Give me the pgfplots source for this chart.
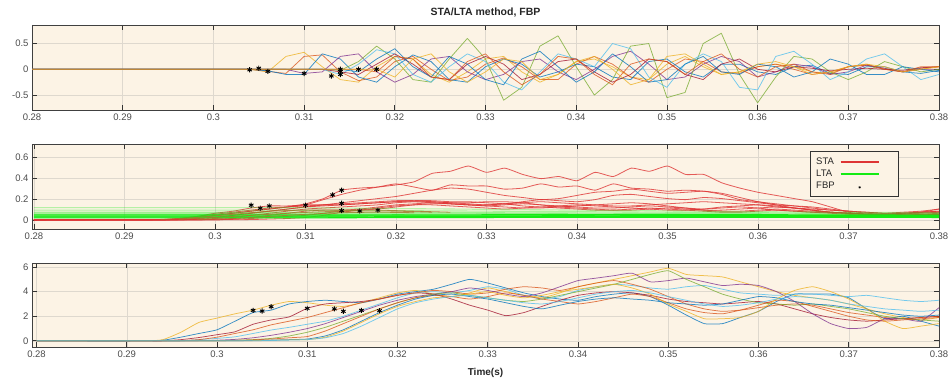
\documentclass[border=0pt]{standalone}
\usepackage{fontspec}
\setmainfont{Liberation Sans}
\usepackage{pgfplots}
\pgfplotsset{compat=1.18}
\definecolor{bgc}{RGB}{252,243,229}
\definecolor{gridc}{RGB}{222,216,206}
\definecolor{mblue}{RGB}{0,114,189}
\definecolor{morange}{RGB}{217,83,25}
\definecolor{myellow}{RGB}{237,177,32}
\definecolor{mpurple}{RGB}{126,47,142}
\definecolor{mgreen}{RGB}{119,172,48}
\definecolor{mlblue}{RGB}{77,190,238}
\definecolor{mdred}{RGB}{162,20,47}
\definecolor{stared}{RGB}{222,52,52}
\definecolor{ltagreen}{RGB}{20,235,20}
\definecolor{olive2}{RGB}{165,120,45}
\pgfplotsset{
  mat/.style={
    scale only axis, width=907pt, xmax=0.38,
    axis background/.style={fill=bgc},
    grid=major, major grid style={gridc, line width=0.5pt},
    axis line style={black!75, line width=0.7pt},
    tick style={black!80, line width=0.8pt},
    major tick length=5pt, tick align=inside,
    xtick pos=both, ytick pos=both,
    xtick={0.28,0.29,0.30,0.31,0.32,0.33,0.34,0.35,0.36,0.37,0.38},
    xticklabels={0.28,0.29,0.3,0.31,0.32,0.33,0.34,0.35,0.36,0.37,0.38},
    scaled ticks=false,
    ticklabel style={font=\fontsize{9.5}{11}\selectfont, text=black!70},
    /pgf/number format/assume math mode=true,
    every axis plot/.append style={line join=round},
  },
  w1/.style={line width=0.75pt, opacity=0.78},
  sta/.style={stared, line width=0.8pt, opacity=0.8, smooth, tension=0.3},
  lta/.style={ltagreen, line width=1.1pt},
  olv/.style={olive2, line width=0.8pt, opacity=0.8, smooth, tension=0.3, forget plot},
  fbp/.style={only marks, mark=asterisk, mark size=2.6pt, black, mark options={line width=0.9pt}},
  legsta/.style={legend image code/.code={\draw[draw=stared, line width=1.8pt] (4pt,0pt) -- (42pt,0pt); \path[draw=none, fill=none] (0pt,0pt) -- (57pt,0pt);}},
  leglta/.style={legend image code/.code={\draw[draw=ltagreen, line width=1.5pt] (4pt,0pt) -- (42pt,0pt); \path[draw=none, fill=none] (0pt,0pt) -- (57pt,0pt);}},
  legmark/.style={legend image code/.code={\draw[##1] plot coordinates {(23pt,-1.5pt)}; \path[draw=none, fill=none] (0pt,0pt) -- (57pt,0pt);}},
}
\begin{document}
\begin{tikzpicture}[x=1pt,y=1pt]
\useasboundingbox (0,0) rectangle (949,381);
% ---------------- panel 1 ----------------
\begin{axis}[mat, at={(32pt,271pt)}, anchor=south west, height=85pt,
  xmin=0.28, ymin=-0.79, ymax=0.86,
  ytick={-0.5,0,0.5}, yticklabels={-0.5,0,0.5},
  title={STA/LTA method, FBP},
  title style={font=\fontsize{10.5}{12}\selectfont\bfseries, text=black!85, yshift=-2pt}]
\addplot[w1, myellow] coordinates {(0.28,0)(0.304,0)(0.306,-0.05)(0.308,0.25)(0.310,0.33)(0.312,0.05)(0.314,-0.20)(0.316,-0.25)(0.318,0.05)(0.320,0.25)(0.322,0.20)(0.324,-0.10)(0.326,-0.25)(0.328,-0.05)(0.330,0.20)(0.332,0.25)(0.334,-0.05)(0.336,-0.25)(0.338,-0.10)(0.340,0.15)(0.342,0.20)(0.344,0.05)(0.346,-0.15)(0.348,-0.20)(0.350,0.10)(0.352,0.25)(0.354,0.05)(0.356,-0.10)(0.358,-0.05)(0.360,0.05)(0.362,0.10)(0.364,0.05)(0.366,-0.05)(0.368,-0.08)(0.370,0.05)(0.372,0.08)(0.374,0.02)(0.376,-0.05)(0.378,0)(0.380,0.05)};
\addplot[w1, morange] coordinates {(0.28,0)(0.304,0)(0.306,-0.04)(0.308,-0.08)(0.310,0.25)(0.312,0.28)(0.314,-0.05)(0.316,-0.22)(0.318,-0.15)(0.320,0.15)(0.322,0.25)(0.324,0)(0.326,-0.22)(0.328,-0.15)(0.330,0.10)(0.332,0.22)(0.334,0.05)(0.336,-0.20)(0.338,-0.20)(0.340,0.10)(0.342,0.25)(0.344,0.10)(0.346,-0.15)(0.348,-0.25)(0.350,0)(0.352,0.20)(0.354,0.15)(0.356,-0.05)(0.358,-0.08)(0.360,0.05)(0.362,0.10)(0.364,0)(0.366,-0.10)(0.368,-0.05)(0.370,0.05)(0.372,0.08)(0.374,0)(0.376,-0.05)(0.378,0.02)(0.380,0.05)};
\addplot[w1, mblue] coordinates {(0.28,0)(0.304,0)(0.306,-0.03)(0.308,-0.10)(0.310,-0.10)(0.312,0.30)(0.314,0.20)(0.316,-0.15)(0.318,-0.25)(0.320,0.05)(0.322,0.28)(0.324,0.15)(0.326,-0.20)(0.328,-0.25)(0.330,0.05)(0.332,0.20)(0.334,0.10)(0.336,-0.15)(0.338,-0.05)(0.340,0.10)(0.342,0.05)(0.344,-0.15)(0.346,-0.20)(0.348,0.15)(0.350,0.20)(0.352,-0.05)(0.354,-0.15)(0.356,0.10)(0.358,0.10)(0.360,-0.05)(0.362,-0.10)(0.364,0.05)(0.366,0.08)(0.368,-0.08)(0.370,-0.10)(0.372,0.05)(0.374,0.05)(0.376,-0.05)(0.378,-0.08)(0.380,-0.02)};
\addplot[w1, mpurple] coordinates {(0.28,0)(0.308,0)(0.310,-0.08)(0.312,-0.05)(0.314,0.25)(0.316,0.30)(0.318,-0.05)(0.320,-0.25)(0.322,-0.10)(0.324,0.20)(0.326,0.25)(0.328,-0.05)(0.330,-0.20)(0.332,-0.10)(0.334,0.15)(0.336,0.20)(0.338,-0.05)(0.340,-0.20)(0.342,0)(0.344,0.25)(0.346,0.35)(0.348,0.10)(0.350,-0.20)(0.352,-0.15)(0.354,0.10)(0.356,0.25)(0.358,0.15)(0.360,-0.15)(0.362,-0.05)(0.364,0.10)(0.366,0.05)(0.368,-0.10)(0.370,-0.05)(0.372,0.08)(0.374,0.02)(0.376,-0.05)(0.378,0)(0.380,0)};
\addplot[w1, mgreen] coordinates {(0.28,0)(0.312,0)(0.314,-0.02)(0.316,0.15)(0.318,0.45)(0.320,0.20)(0.322,-0.20)(0.324,-0.25)(0.326,0.20)(0.328,0.60)(0.330,0.20)(0.332,-0.60)(0.334,-0.35)(0.336,0.45)(0.338,0.65)(0.340,0.05)(0.342,-0.50)(0.344,-0.20)(0.346,0.45)(0.348,0.50)(0.350,-0.55)(0.352,-0.45)(0.354,0.50)(0.356,0.70)(0.358,-0.10)(0.360,-0.65)(0.362,-0.15)(0.364,0.25)(0.366,0.20)(0.368,-0.05)(0.370,-0.20)(0.372,-0.05)(0.374,0.15)(0.376,0.05)(0.378,-0.05)(0.380,0)};
\addplot[w1, mlblue] coordinates {(0.28,0)(0.312,0)(0.314,-0.10)(0.316,0.10)(0.318,0.38)(0.320,0.30)(0.322,-0.10)(0.324,-0.25)(0.326,0.05)(0.328,0.30)(0.330,0.15)(0.332,-0.25)(0.334,-0.40)(0.336,-0.05)(0.338,0.30)(0.340,0.20)(0.342,0.05)(0.344,0.50)(0.346,0.40)(0.348,-0.15)(0.350,-0.35)(0.352,0.10)(0.354,0.30)(0.356,0.15)(0.358,-0.35)(0.360,-0.40)(0.362,0.25)(0.364,0.35)(0.366,0.10)(0.368,-0.20)(0.370,-0.05)(0.372,0.20)(0.374,0.30)(0.376,0.05)(0.378,-0.20)(0.380,-0.10)};
\addplot[w1, mdred] coordinates {(0.28,0)(0.312,0)(0.314,-0.05)(0.316,-0.10)(0.318,0.10)(0.320,0.30)(0.322,0.10)(0.324,-0.15)(0.326,-0.20)(0.328,0.10)(0.330,0.25)(0.332,0.10)(0.334,-0.20)(0.336,-0.10)(0.338,0.15)(0.340,0.20)(0.342,-0.05)(0.344,-0.25)(0.346,-0.10)(0.348,0.20)(0.350,0.15)(0.352,-0.10)(0.354,-0.20)(0.356,0.10)(0.358,0.20)(0.360,0)(0.362,-0.05)(0.364,0.05)(0.366,0.02)(0.368,-0.03)(0.370,0)(0.372,0.02)(0.374,0)(0.376,-0.02)(0.378,0.03)(0.380,0.05)};
\addplot[w1, mblue] coordinates {(0.28,0)(0.314,0)(0.316,-0.05)(0.318,0.20)(0.320,0.40)(0.322,0.05)(0.324,-0.15)(0.326,0.25)(0.328,0.10)(0.330,-0.20)(0.332,-0.30)(0.334,0.20)(0.336,0.35)(0.338,0.05)(0.340,-0.25)(0.342,-0.05)(0.344,0.30)(0.346,0.05)(0.348,-0.25)(0.350,-0.20)(0.352,0.10)(0.354,0.25)(0.356,-0.05)(0.358,-0.10)(0.360,0.10)(0.362,0.05)(0.364,-0.15)(0.366,-0.05)(0.368,0.20)(0.370,0.10)(0.372,-0.10)(0.374,-0.10)(0.376,0.05)(0.378,0)(0.380,-0.05)};
\addplot[w1, morange] coordinates {(0.28,0)(0.316,0)(0.318,-0.05)(0.320,0.25)(0.322,0.20)(0.324,-0.15)(0.326,-0.20)(0.328,0.15)(0.330,0.30)(0.332,-0.05)(0.334,-0.30)(0.336,-0.10)(0.338,0.25)(0.340,0.20)(0.342,-0.10)(0.344,-0.30)(0.346,0.10)(0.348,0.20)(0.350,0.15)(0.352,-0.10)(0.354,0.15)(0.356,0.30)(0.358,0)(0.360,-0.15)(0.362,0.05)(0.364,0.10)(0.366,-0.05)(0.368,-0.10)(0.370,0.05)(0.372,0.10)(0.374,0)(0.376,-0.05)(0.378,0.05)(0.380,0.05)};
\addplot[w1, myellow] coordinates {(0.28,0)(0.318,0)(0.320,-0.15)(0.322,0.20)(0.324,0.30)(0.326,-0.05)(0.328,-0.25)(0.330,-0.05)(0.332,0.20)(0.334,0.15)(0.336,-0.20)(0.338,-0.10)(0.340,0.15)(0.342,0.25)(0.344,0)(0.346,-0.30)(0.348,-0.20)(0.350,0.25)(0.352,0.30)(0.354,0.10)(0.356,-0.10)(0.358,-0.05)(0.360,0.10)(0.362,0.15)(0.364,0.05)(0.366,-0.10)(0.368,-0.05)(0.370,0.05)(0.372,0.10)(0.374,0.05)(0.376,-0.05)(0.378,0)(0.380,0.05)};
\addplot[fbp] coordinates {(0.304,-0.01)(0.305,0.02)(0.306,-0.04)(0.310,-0.08)(0.313,-0.13)(0.314,0.0)(0.314,-0.04)(0.314,-0.10)(0.316,0.0)(0.318,0.0)};
\end{axis}
% ---------------- panel 2 ----------------
\begin{axis}[mat, at={(32pt,152pt)}, anchor=south west, height=85pt,
  xmin=0.27978, ymin=-0.08, ymax=0.73,
  ytick={0,0.2,0.4,0.6}, yticklabels={0,0.2,0.4,0.6},
  legend style={at={(0.8578,0.918)}, anchor=north west, draw=black!80, fill=bgc,
    font=\fontsize{9.5}{11}\selectfont, text=black!85, inner xsep=4pt, inner ysep=4.5pt,
    row sep=0pt, legend cell align=left},
  legend plot pos=right]
\addplot[sta, forget plot] coordinates {(0.280,0.007)(0.294,0.008)(0.296,0.015)(0.298,0.03)(0.300,0.05)(0.302,0.07)(0.304,0.09)(0.306,0.11)(0.308,0.13)(0.310,0.16)(0.312,0.21)(0.314,0.29)(0.316,0.31)(0.318,0.32)(0.320,0.34)(0.322,0.37)(0.324,0.45)(0.326,0.47)(0.328,0.52)(0.330,0.46)(0.332,0.50)(0.334,0.44)(0.336,0.40)(0.338,0.42)(0.340,0.38)(0.342,0.46)(0.344,0.42)(0.346,0.50)(0.348,0.47)(0.350,0.52)(0.352,0.44)(0.354,0.44)(0.356,0.36)(0.358,0.31)(0.360,0.27)(0.362,0.24)(0.364,0.21)(0.366,0.18)(0.368,0.13)(0.370,0.08)(0.372,0.06)(0.374,0.055)(0.376,0.06)(0.378,0.08)(0.380,0.11)};
\addplot[sta, forget plot] coordinates {(0.280,0.007)(0.294,0.01)(0.296,0.02)(0.298,0.035)(0.300,0.05)(0.302,0.07)(0.304,0.09)(0.306,0.11)(0.308,0.13)(0.310,0.15)(0.312,0.20)(0.314,0.25)(0.316,0.29)(0.318,0.32)(0.320,0.35)(0.322,0.32)(0.324,0.29)(0.326,0.34)(0.328,0.33)(0.330,0.33)(0.332,0.30)(0.334,0.31)(0.336,0.35)(0.338,0.32)(0.340,0.33)(0.342,0.29)(0.344,0.35)(0.346,0.31)(0.348,0.30)(0.350,0.28)(0.352,0.29)(0.354,0.28)(0.356,0.25)(0.358,0.20)(0.360,0.18)(0.362,0.15)(0.364,0.14)(0.366,0.13)(0.368,0.11)(0.370,0.09)(0.372,0.07)(0.374,0.06)(0.376,0.055)(0.378,0.055)(0.380,0.06)};
\addplot[sta, forget plot] coordinates {(0.280,0.007)(0.294,0.007)(0.296,0.01)(0.298,0.02)(0.300,0.03)(0.302,0.05)(0.304,0.07)(0.306,0.09)(0.308,0.11)(0.310,0.13)(0.312,0.15)(0.314,0.17)(0.316,0.19)(0.318,0.21)(0.320,0.23)(0.322,0.26)(0.324,0.29)(0.326,0.31)(0.328,0.30)(0.330,0.27)(0.332,0.24)(0.334,0.22)(0.336,0.20)(0.338,0.21)(0.340,0.24)(0.342,0.27)(0.344,0.28)(0.346,0.30)(0.348,0.28)(0.350,0.26)(0.352,0.27)(0.354,0.28)(0.356,0.26)(0.358,0.22)(0.360,0.18)(0.362,0.16)(0.364,0.14)(0.366,0.12)(0.368,0.10)(0.370,0.09)(0.372,0.08)(0.374,0.07)(0.376,0.07)(0.378,0.08)(0.380,0.09)};
\addplot[sta, forget plot] coordinates {(0.280,0.007)(0.294,0.01)(0.296,0.02)(0.298,0.04)(0.300,0.06)(0.302,0.08)(0.304,0.10)(0.306,0.12)(0.308,0.13)(0.310,0.14)(0.312,0.15)(0.314,0.16)(0.316,0.17)(0.318,0.18)(0.320,0.19)(0.322,0.19)(0.324,0.18)(0.326,0.17)(0.328,0.16)(0.330,0.15)(0.332,0.16)(0.334,0.18)(0.336,0.20)(0.338,0.19)(0.340,0.18)(0.342,0.20)(0.344,0.24)(0.346,0.25)(0.348,0.23)(0.350,0.21)(0.352,0.20)(0.354,0.22)(0.356,0.21)(0.358,0.19)(0.360,0.17)(0.362,0.15)(0.364,0.12)(0.366,0.10)(0.368,0.08)(0.370,0.07)(0.372,0.06)(0.374,0.06)(0.376,0.05)(0.378,0.06)(0.380,0.07)};
\addplot[sta, forget plot] coordinates {(0.280,0.007)(0.294,0.01)(0.296,0.02)(0.298,0.04)(0.300,0.07)(0.302,0.09)(0.304,0.12)(0.306,0.14)(0.308,0.14)(0.310,0.15)(0.312,0.15)(0.314,0.15)(0.316,0.16)(0.318,0.17)(0.320,0.18)(0.322,0.19)(0.324,0.19)(0.326,0.18)(0.328,0.18)(0.330,0.17)(0.332,0.16)(0.334,0.14)(0.336,0.13)(0.338,0.14)(0.340,0.15)(0.342,0.14)(0.344,0.13)(0.346,0.12)(0.348,0.11)(0.350,0.10)(0.352,0.10)(0.354,0.11)(0.356,0.13)(0.358,0.14)(0.360,0.15)(0.362,0.14)(0.364,0.12)(0.366,0.10)(0.368,0.08)(0.370,0.07)(0.372,0.06)(0.374,0.05)(0.376,0.05)(0.378,0.06)(0.380,0.06)};
\addplot[sta, forget plot] coordinates {(0.280,0.007)(0.294,0.007)(0.296,0.01)(0.298,0.02)(0.300,0.03)(0.302,0.05)(0.304,0.07)(0.306,0.09)(0.308,0.11)(0.310,0.13)(0.312,0.14)(0.314,0.15)(0.316,0.16)(0.318,0.17)(0.320,0.18)(0.322,0.18)(0.324,0.17)(0.326,0.16)(0.328,0.15)(0.330,0.15)(0.332,0.16)(0.334,0.17)(0.336,0.18)(0.338,0.17)(0.340,0.16)(0.342,0.15)(0.344,0.14)(0.346,0.14)(0.348,0.15)(0.350,0.16)(0.352,0.17)(0.354,0.18)(0.356,0.17)(0.358,0.16)(0.360,0.15)(0.362,0.13)(0.364,0.12)(0.366,0.11)(0.368,0.10)(0.370,0.09)(0.372,0.08)(0.374,0.07)(0.376,0.08)(0.378,0.09)(0.380,0.11)};
\addplot[sta, forget plot] coordinates {(0.280,0.007)(0.294,0.007)(0.296,0.008)(0.298,0.012)(0.300,0.02)(0.302,0.03)(0.304,0.05)(0.306,0.07)(0.308,0.09)(0.310,0.11)(0.312,0.12)(0.314,0.13)(0.316,0.14)(0.318,0.15)(0.320,0.17)(0.322,0.18)(0.324,0.18)(0.326,0.17)(0.328,0.17)(0.330,0.18)(0.332,0.18)(0.334,0.17)(0.336,0.15)(0.338,0.14)(0.340,0.13)(0.342,0.12)(0.344,0.12)(0.346,0.13)(0.348,0.14)(0.350,0.13)(0.352,0.12)(0.354,0.11)(0.356,0.12)(0.358,0.13)(0.360,0.12)(0.362,0.10)(0.364,0.09)(0.366,0.08)(0.368,0.08)(0.370,0.07)(0.372,0.06)(0.374,0.06)(0.376,0.07)(0.378,0.08)(0.380,0.08)};
\addplot[sta, forget plot] coordinates {(0.280,0.007)(0.294,0.007)(0.296,0.007)(0.298,0.008)(0.300,0.012)(0.302,0.02)(0.304,0.03)(0.306,0.05)(0.308,0.07)(0.310,0.09)(0.312,0.10)(0.314,0.10)(0.316,0.11)(0.318,0.13)(0.320,0.15)(0.322,0.16)(0.324,0.17)(0.326,0.16)(0.328,0.15)(0.330,0.14)(0.332,0.13)(0.334,0.12)(0.336,0.12)(0.338,0.13)(0.340,0.14)(0.342,0.15)(0.344,0.16)(0.346,0.17)(0.348,0.16)(0.350,0.14)(0.352,0.12)(0.354,0.10)(0.356,0.10)(0.358,0.11)(0.360,0.12)(0.362,0.13)(0.364,0.12)(0.366,0.10)(0.368,0.08)(0.370,0.07)(0.372,0.06)(0.374,0.05)(0.376,0.05)(0.378,0.05)(0.380,0.06)};
\addplot[sta, forget plot] coordinates {(0.280,0.007)(0.294,0.007)(0.296,0.007)(0.298,0.007)(0.300,0.008)(0.302,0.012)(0.304,0.02)(0.306,0.03)(0.308,0.04)(0.310,0.05)(0.312,0.07)(0.314,0.09)(0.316,0.10)(0.318,0.11)(0.320,0.13)(0.322,0.15)(0.324,0.16)(0.326,0.16)(0.328,0.15)(0.330,0.14)(0.332,0.15)(0.334,0.16)(0.336,0.15)(0.338,0.13)(0.340,0.12)(0.342,0.11)(0.344,0.10)(0.346,0.10)(0.348,0.11)(0.350,0.12)(0.352,0.11)(0.354,0.10)(0.356,0.09)(0.358,0.09)(0.360,0.10)(0.362,0.11)(0.364,0.10)(0.366,0.09)(0.368,0.08)(0.370,0.07)(0.372,0.06)(0.374,0.06)(0.376,0.07)(0.378,0.08)(0.380,0.09)};
\addplot[sta, forget plot] coordinates {(0.280,0.007)(0.294,0.007)(0.296,0.007)(0.298,0.007)(0.300,0.007)(0.302,0.008)(0.304,0.01)(0.306,0.015)(0.308,0.02)(0.310,0.03)(0.312,0.05)(0.314,0.08)(0.316,0.10)(0.318,0.12)(0.320,0.14)(0.322,0.15)(0.324,0.15)(0.326,0.14)(0.328,0.13)(0.330,0.12)(0.332,0.11)(0.334,0.12)(0.336,0.13)(0.338,0.12)(0.340,0.11)(0.342,0.10)(0.344,0.10)(0.346,0.11)(0.348,0.12)(0.350,0.11)(0.352,0.10)(0.354,0.09)(0.356,0.08)(0.358,0.08)(0.360,0.09)(0.362,0.10)(0.364,0.09)(0.366,0.08)(0.368,0.07)(0.370,0.06)(0.372,0.05)(0.374,0.05)(0.376,0.06)(0.378,0.07)(0.380,0.08)};
\addplot[lta, opacity=0.3, forget plot] coordinates {(0.28,0.124)(0.30,0.124)(0.31,0.122)(0.32,0.115)(0.34,0.100)(0.36,0.085)(0.38,0.075)};
\addplot[lta, opacity=0.35, forget plot] coordinates {(0.28,0.100)(0.30,0.100)(0.31,0.099)(0.32,0.095)(0.34,0.085)(0.36,0.075)(0.38,0.065)};
\addplot[lta, opacity=0.4, forget plot] coordinates {(0.28,0.080)(0.30,0.080)(0.31,0.080)(0.32,0.078)(0.34,0.072)(0.36,0.065)(0.38,0.058)};
\addplot[lta, forget plot] coordinates {(0.28,0.062)(0.30,0.062)(0.31,0.062)(0.32,0.062)(0.34,0.060)(0.36,0.056)(0.38,0.052)};
\addplot[lta, forget plot] coordinates {(0.28,0.052)(0.30,0.052)(0.31,0.052)(0.32,0.053)(0.34,0.052)(0.36,0.050)(0.38,0.046)};
\addplot[lta, forget plot] coordinates {(0.28,0.043)(0.30,0.043)(0.31,0.043)(0.32,0.045)(0.34,0.046)(0.36,0.044)(0.38,0.040)};
\addplot[lta, forget plot] coordinates {(0.28,0.034)(0.30,0.034)(0.31,0.034)(0.32,0.037)(0.34,0.039)(0.36,0.039)(0.38,0.036)};
\addplot[lta, forget plot] coordinates {(0.28,0.026)(0.30,0.026)(0.31,0.026)(0.32,0.029)(0.34,0.031)(0.36,0.032)(0.38,0.030)};
\addplot[olv] coordinates {(0.294,0.012)(0.298,0.03)(0.302,0.06)(0.306,0.09)(0.310,0.10)(0.314,0.10)(0.318,0.10)(0.322,0.09)(0.326,0.08)};
\addplot[olv] coordinates {(0.296,0.012)(0.300,0.03)(0.304,0.05)(0.308,0.07)(0.312,0.085)(0.316,0.092)(0.320,0.09)(0.324,0.08)};
\addplot[olv] coordinates {(0.298,0.012)(0.302,0.02)(0.306,0.04)(0.310,0.06)(0.314,0.075)(0.318,0.08)(0.322,0.075)};
\addplot[fbp, forget plot] coordinates {(0.304,0.147)(0.305,0.118)(0.306,0.14)(0.310,0.147)(0.313,0.245)(0.314,0.29)(0.314,0.165)(0.314,0.095)(0.316,0.092)(0.318,0.10)};
\addlegendimage{legsta}
\addlegendentry{STA}
\addlegendimage{leglta}
\addlegendentry{LTA}
\addlegendimage{only marks, mark=asterisk, mark size=1.3pt, black, legmark}
\addlegendentry{FBP}
\end{axis}
% ---------------- panel 3 ----------------
\begin{axis}[mat, at={(32pt,34pt)}, anchor=south west, height=84pt,
  xmin=0.2795, ymin=-0.5, ymax=6.33,
  ytick={0,2,4,6}, yticklabels={0,2,4,6},
  xlabel={Time(s)},
  xlabel style={font=\fontsize{10}{12}\selectfont\bfseries, text=black!85, yshift=-4pt}]
\addplot[w1, smooth, tension=0.3, myellow] coordinates {(0.280,0)(0.292,0.01)(0.294,0.1)(0.296,0.7)(0.298,1.5)(0.300,1.85)(0.302,2.2)(0.304,2.5)(0.306,2.9)(0.308,3.2)(0.310,3.1)(0.312,2.9)(0.314,2.8)(0.316,3.1)(0.318,3.5)(0.320,3.9)(0.322,4.1)(0.324,3.8)(0.326,3.6)(0.328,3.9)(0.330,4.3)(0.332,4.0)(0.334,3.7)(0.336,3.5)(0.338,3.9)(0.340,4.4)(0.342,4.7)(0.344,5.0)(0.346,5.3)(0.348,5.6)(0.350,5.9)(0.352,5.4)(0.354,5.3)(0.356,5.2)(0.358,4.8)(0.360,4.4)(0.362,4.0)(0.364,3.7)(0.366,3.5)(0.368,3.3)(0.370,3.0)(0.372,2.6)(0.374,2.2)(0.376,1.9)(0.378,1.7)(0.380,1.9)};
\addplot[w1, smooth, tension=0.3, mblue] coordinates {(0.280,0)(0.292,0)(0.294,0.05)(0.296,0.3)(0.298,0.6)(0.300,0.9)(0.302,1.6)(0.304,2.3)(0.306,2.5)(0.308,3.0)(0.310,3.2)(0.312,3.3)(0.314,3.2)(0.316,3.1)(0.318,3.4)(0.320,3.8)(0.322,4.0)(0.324,4.2)(0.326,4.6)(0.328,5.0)(0.330,4.7)(0.332,4.3)(0.334,3.9)(0.336,3.6)(0.338,3.4)(0.340,3.3)(0.342,3.6)(0.344,3.8)(0.346,3.9)(0.348,3.6)(0.350,2.9)(0.352,2.1)(0.354,1.4)(0.356,1.4)(0.358,1.9)(0.360,2.4)(0.362,3.2)(0.364,3.8)(0.366,3.8)(0.368,3.8)(0.370,3.5)(0.372,2.6)(0.374,1.8)(0.376,2.0)(0.378,1.6)(0.380,1.2)};
\addplot[w1, smooth, tension=0.3, mdred] coordinates {(0.280,0)(0.292,0)(0.294,0)(0.296,0.1)(0.298,0.27)(0.300,0.5)(0.302,0.74)(0.304,1.35)(0.306,1.7)(0.308,1.95)(0.310,2.65)(0.312,3.0)(0.314,3.1)(0.316,3.2)(0.318,3.4)(0.320,3.7)(0.322,3.9)(0.324,3.8)(0.326,3.4)(0.328,2.9)(0.330,2.5)(0.332,2.05)(0.334,2.3)(0.336,2.8)(0.338,3.3)(0.340,3.7)(0.342,3.9)(0.344,4.0)(0.346,3.9)(0.348,3.7)(0.350,3.4)(0.352,3.2)(0.354,3.1)(0.356,3.0)(0.358,3.1)(0.360,3.2)(0.362,3.0)(0.364,2.6)(0.366,2.2)(0.368,1.9)(0.370,1.7)(0.372,1.6)(0.374,1.7)(0.376,1.8)(0.378,1.9)(0.380,2.0)};
\addplot[w1, smooth, tension=0.3, mlblue] coordinates {(0.280,0)(0.292,0)(0.294,0)(0.296,0)(0.298,0.1)(0.300,0.2)(0.302,0.33)(0.304,0.6)(0.306,0.88)(0.308,1.1)(0.310,1.35)(0.312,1.6)(0.314,2.0)(0.316,2.5)(0.318,3.0)(0.320,3.5)(0.322,3.9)(0.324,4.0)(0.326,3.9)(0.328,4.1)(0.330,4.4)(0.332,4.2)(0.334,3.7)(0.336,3.4)(0.338,3.6)(0.340,4.1)(0.342,4.4)(0.344,4.6)(0.346,4.5)(0.348,4.3)(0.350,4.2)(0.352,4.4)(0.354,4.5)(0.356,4.2)(0.358,3.9)(0.360,3.8)(0.362,3.7)(0.364,3.8)(0.366,3.8)(0.368,3.7)(0.370,3.6)(0.372,3.7)(0.374,3.5)(0.376,3.3)(0.378,3.2)(0.380,3.3)};
\addplot[w1, smooth, tension=0.3, morange] coordinates {(0.280,0)(0.292,0)(0.294,0)(0.296,0.02)(0.298,0.1)(0.300,0.3)(0.302,0.6)(0.304,0.9)(0.306,1.3)(0.308,1.6)(0.310,1.9)(0.312,2.3)(0.314,2.7)(0.316,3.1)(0.318,3.4)(0.320,3.7)(0.322,3.9)(0.324,4.1)(0.326,4.0)(0.328,3.8)(0.330,3.9)(0.332,4.2)(0.334,4.4)(0.336,4.3)(0.338,4.1)(0.340,4.4)(0.342,4.7)(0.344,4.9)(0.346,4.6)(0.348,4.2)(0.350,3.6)(0.352,3.0)(0.354,2.6)(0.356,2.4)(0.358,2.5)(0.360,2.7)(0.362,2.9)(0.364,3.0)(0.366,2.9)(0.368,2.6)(0.370,2.3)(0.372,2.1)(0.374,1.9)(0.376,1.8)(0.378,1.9)(0.380,2.0)};
\addplot[w1, smooth, tension=0.3, mpurple] coordinates {(0.280,0)(0.296,0)(0.298,0.02)(0.300,0.05)(0.302,0.12)(0.304,0.25)(0.306,0.45)(0.308,0.7)(0.310,1.0)(0.312,1.4)(0.314,1.9)(0.316,2.4)(0.318,2.9)(0.320,3.3)(0.322,3.6)(0.324,3.8)(0.326,4.0)(0.328,4.3)(0.330,4.1)(0.332,3.8)(0.334,3.6)(0.336,3.9)(0.338,4.4)(0.340,4.9)(0.342,5.1)(0.344,5.3)(0.346,5.5)(0.348,4.8)(0.350,4.9)(0.352,5.1)(0.354,4.8)(0.356,4.5)(0.358,4.6)(0.360,4.5)(0.362,4.0)(0.364,3.2)(0.366,2.2)(0.368,1.4)(0.370,1.0)(0.372,1.1)(0.374,1.8)(0.376,1.8)(0.378,1.6)(0.380,2.7)};
\addplot[w1, smooth, tension=0.3, mgreen] coordinates {(0.280,0)(0.298,0)(0.300,0.02)(0.302,0.05)(0.304,0.1)(0.306,0.2)(0.308,0.4)(0.310,0.7)(0.312,1.1)(0.314,1.6)(0.316,2.1)(0.318,2.6)(0.320,3.1)(0.322,3.5)(0.324,3.8)(0.326,3.9)(0.328,3.7)(0.330,3.5)(0.332,3.3)(0.334,3.2)(0.336,3.4)(0.338,3.7)(0.340,4.0)(0.342,4.3)(0.344,4.6)(0.346,5.0)(0.348,5.4)(0.350,5.7)(0.352,5.0)(0.354,4.4)(0.356,3.8)(0.358,3.4)(0.360,3.1)(0.362,3.0)(0.364,2.9)(0.366,3.0)(0.368,2.8)(0.370,2.6)(0.372,2.3)(0.374,2.0)(0.376,1.8)(0.378,1.7)(0.380,1.6)};
\addplot[w1, smooth, tension=0.3, morange] coordinates {(0.280,0)(0.298,0)(0.300,0.01)(0.302,0.03)(0.304,0.08)(0.306,0.15)(0.308,0.25)(0.310,0.35)(0.312,0.8)(0.314,1.4)(0.316,2.0)(0.318,2.6)(0.320,3.1)(0.322,3.5)(0.324,3.7)(0.326,3.6)(0.328,3.4)(0.330,3.6)(0.332,3.9)(0.334,3.7)(0.336,3.4)(0.338,3.2)(0.340,3.0)(0.342,3.2)(0.344,3.5)(0.346,3.8)(0.348,3.6)(0.350,3.1)(0.352,2.6)(0.354,2.3)(0.356,2.2)(0.358,2.5)(0.360,2.9)(0.362,3.3)(0.364,3.2)(0.366,2.8)(0.368,2.4)(0.370,2.0)(0.372,1.7)(0.374,1.6)(0.376,1.7)(0.378,1.8)(0.380,1.9)};
\addplot[w1, smooth, tension=0.3, mblue] coordinates {(0.280,0)(0.300,0)(0.302,0.01)(0.304,0.03)(0.306,0.06)(0.308,0.1)(0.310,0.15)(0.312,0.4)(0.314,0.9)(0.316,1.6)(0.318,2.3)(0.320,2.9)(0.322,3.4)(0.324,3.7)(0.326,3.8)(0.328,3.6)(0.330,3.4)(0.332,3.1)(0.334,2.8)(0.336,2.6)(0.338,2.9)(0.340,3.2)(0.342,3.4)(0.344,3.5)(0.346,3.4)(0.348,3.3)(0.350,3.1)(0.352,3.0)(0.354,2.9)(0.356,3.0)(0.358,3.3)(0.360,3.6)(0.362,3.5)(0.364,3.2)(0.366,3.0)(0.368,2.9)(0.370,2.7)(0.372,2.5)(0.374,2.3)(0.376,2.1)(0.378,2.0)(0.380,2.1)};
\addplot[w1, smooth, tension=0.3, myellow] coordinates {(0.280,0)(0.302,0)(0.304,0.02)(0.306,0.05)(0.308,0.08)(0.310,0.1)(0.312,0.3)(0.314,0.8)(0.316,1.5)(0.318,2.2)(0.320,2.8)(0.322,3.2)(0.324,3.5)(0.326,3.6)(0.328,3.8)(0.330,4.0)(0.332,3.7)(0.334,3.5)(0.336,3.7)(0.338,4.0)(0.340,4.2)(0.342,4.4)(0.344,4.6)(0.346,4.3)(0.348,3.8)(0.350,3.0)(0.352,2.4)(0.354,1.8)(0.356,1.8)(0.358,1.9)(0.360,2.4)(0.362,3.4)(0.364,4.1)(0.366,4.4)(0.368,4.0)(0.370,3.4)(0.372,2.6)(0.374,1.6)(0.376,1.0)(0.378,1.2)(0.380,1.4)};
\addplot[w1, smooth, tension=0.3, mlblue] coordinates {(0.280,0)(0.302,0)(0.304,0.01)(0.306,0.03)(0.308,0.06)(0.310,0.1)(0.312,0.25)(0.314,0.6)(0.316,1.2)(0.318,1.9)(0.320,2.6)(0.322,3.1)(0.324,3.4)(0.326,3.6)(0.328,3.7)(0.330,3.5)(0.332,3.3)(0.334,3.1)(0.336,3.0)(0.338,3.2)(0.340,3.5)(0.342,3.8)(0.344,4.0)(0.346,4.1)(0.348,3.9)(0.350,3.6)(0.352,3.3)(0.354,3.0)(0.356,2.8)(0.358,2.9)(0.360,3.1)(0.362,3.4)(0.364,3.6)(0.366,3.5)(0.368,3.3)(0.370,3.0)(0.372,2.8)(0.374,2.6)(0.376,2.5)(0.378,2.4)(0.380,2.5)};
\addplot[fbp] coordinates {(0.304,2.48)(0.305,2.42)(0.306,2.78)(0.310,2.64)(0.313,2.6)(0.314,2.4)(0.316,2.48)(0.318,2.45)};
\end{axis}
\end{tikzpicture}
\end{document}
